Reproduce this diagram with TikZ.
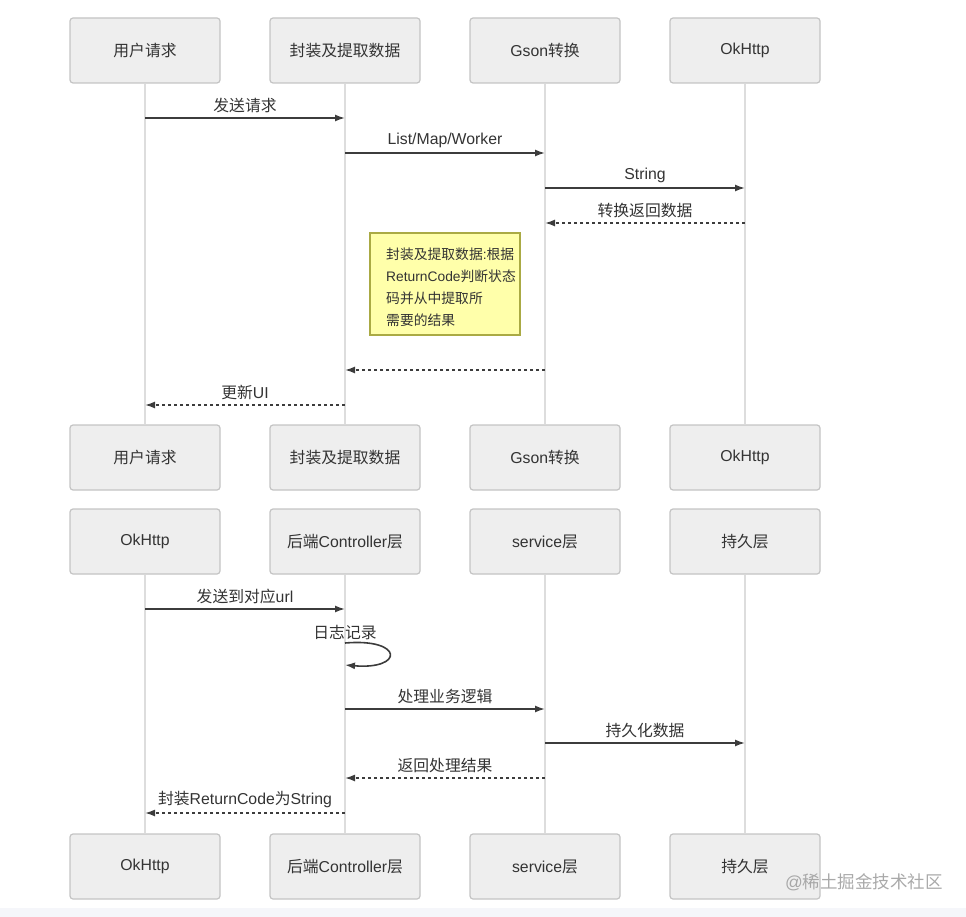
\documentclass[tikz,border=0pt]{standalone}
\usepackage{fontspec}
\setmainfont{Liberation Sans}
\newfontfamily\cjk{Noto Sans CJK SC}
\usetikzlibrary{arrows.meta}
\definecolor{boxfill}{HTML}{EEEEEE}
\definecolor{boxdraw}{HTML}{C4C4C4}
\definecolor{lifec}{HTML}{DDDDDD}
\definecolor{msgc}{HTML}{3C3C3C}
\definecolor{txtc}{HTML}{333333}
\definecolor{notefill}{HTML}{FFFFAA}
\definecolor{notedraw}{HTML}{AAAA44}
\definecolor{bandc}{HTML}{F5F6FA}
\definecolor{wmc}{HTML}{A0A0A0}
\tikzset{
  actor/.style={draw=boxdraw, fill=boxfill, rounded corners=3pt, line width=1.2pt,
    minimum width=150pt, minimum height=65pt, inner sep=0pt, text=txtc,
    font=\fontsize{15.8}{19}\selectfont},
  life/.style={draw=lifec, line width=1.6pt},
  msg/.style={draw=msgc, line width=1.6pt, -{Latex[length=10pt,width=7pt]}},
  ret/.style={msg, dash pattern=on 3pt off 3pt},
  lbl/.style={text=txtc, font=\fontsize{15.8}{19}\selectfont, inner sep=0pt},
  notebox/.style={draw=notedraw, fill=notefill, line width=1.2pt},
}
\begin{document}
\begin{tikzpicture}[x=1pt,y=-1pt]
\useasboundingbox (0,0) rectangle (966,917);
\fill[bandc] (0,908) rectangle (966,917);

% ---------- diagram 1 ----------
\node[actor] (a1) at (145,50.5) {\cjk 用户请求};
\node[actor] (b1) at (345,50.5) {\cjk 封装及提取数据};
\node[actor] (c1) at (545,50.5) {Gson{\cjk 转换}};
\node[actor] (d1) at (745,50.5) {OkHttp};
\node[actor] (a2) at (145,457.5) {\cjk 用户请求};
\node[actor] (b2) at (345,457.5) {\cjk 封装及提取数据};
\node[actor] (c2) at (545,457.5) {Gson{\cjk 转换}};
\node[actor] (d2) at (745,457.5) {OkHttp};
\draw[life] (a1.south) -- (a2.north);
\draw[life] (b1.south) -- (b2.north);
\draw[life] (c1.south) -- (c2.north);
\draw[life] (d1.south) -- (d2.north);

\draw[msg] (a1.south |- 0,118) -- (b1.south |- 0,118)
  node[lbl, midway, above=4pt] (l1) {\cjk 发送请求};
\draw[msg] (b1.south |- 0,153) -- (c1.south |- 0,153)
  node[lbl, midway, above=4pt] (l2) {List/Map/Worker};
\draw[msg] (c1.south |- 0,188) -- (d1.south |- 0,188)
  node[lbl, midway, above=4pt] (l3) {String};
\draw[ret] (d1.south |- 0,223) -- (c1.south |- 0,223)
  node[lbl, midway, above=4pt] (l4) {\cjk 转换返回数据};

\draw[notebox] (370,233) rectangle (520,335);
\node[anchor=north west, align=left, inner sep=0pt, text=txtc,
  font=\fontsize{13.8}{22}\selectfont] (note) at (386,248)
  {{\cjk 封装及提取数据}:{\cjk 根据}\\ReturnCode{\cjk 判断状态}\\{\cjk 码并从中提取所}\\{\cjk 需要的结果}};

\draw[ret] (c1.south |- 0,370) -- (b1.south |- 0,370);
\draw[ret] (b1.south |- 0,405) -- (a1.south |- 0,405)
  node[lbl, midway, above=4pt] (l5) {{\cjk 更新}UI};

% ---------- diagram 2 ----------
\node[actor] (p1) at (145,541.5) {OkHttp};
\node[actor] (q1) at (345,541.5) {{\cjk 后端}Controller{\cjk 层}};
\node[actor] (r1) at (545,541.5) {service{\cjk 层}};
\node[actor] (s1) at (745,541.5) {\cjk 持久层};
\node[actor] (p2) at (145,866.5) {OkHttp};
\node[actor] (q2) at (345,866.5) {{\cjk 后端}Controller{\cjk 层}};
\node[actor] (r2) at (545,866.5) {service{\cjk 层}};
\node[actor] (s2) at (745,866.5) {\cjk 持久层};
\draw[life] (p1.south) -- (p2.north);
\draw[life] (q1.south) -- (q2.north);
\draw[life] (r1.south) -- (r2.north);
\draw[life] (s1.south) -- (s2.north);

\draw[msg] (p1.south |- 0,609) -- (q1.south |- 0,609)
  node[lbl, midway, above=4pt] (m1) {{\cjk 发送到对应}url};
\node[lbl] (m2) at (345,633) {\cjk 日志记录};
\coordinate (ls) at (q1.south |- 0,643);
\coordinate (le) at (q1.south |- 0,665);
\draw[msg] (ls) .. controls (404,638) and (404,670) .. (le);
\draw[msg] (q1.south |- 0,709) -- (r1.south |- 0,709)
  node[lbl, midway, above=4pt] (m3) {\cjk 处理业务逻辑};
\draw[msg] (r1.south |- 0,743) -- (s1.south |- 0,743)
  node[lbl, midway, above=4pt] (m4) {\cjk 持久化数据};
\draw[ret] (r1.south |- 0,778) -- (q1.south |- 0,778)
  node[lbl, midway, above=4pt] (m5) {\cjk 返回处理结果};
\draw[ret] (q1.south |- 0,813) -- (p1.south |- 0,813)
  node[lbl, midway, above=4pt] (m6) {{\cjk 封装}ReturnCode{\cjk 为}String};

\node[anchor=east, inner sep=0pt, text=wmc, opacity=0.9,
  font=\fontsize{17.5}{20}\selectfont] (wm) at (943,882)
  {@{\cjk 稀土掘金技术社区}};
\end{tikzpicture}
\end{document}
